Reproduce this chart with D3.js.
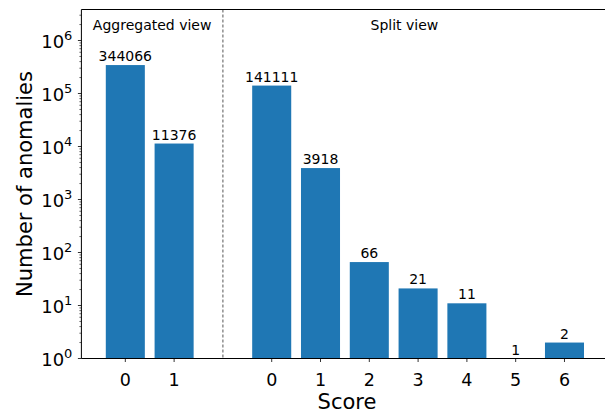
<!DOCTYPE html>
<html><head><meta charset="utf-8">
<script src="https://cdn.jsdelivr.net/npm/d3@7"></script>
<style>body{margin:0;background:#fff}svg{display:block}text{font-family:"DejaVu Sans",sans-serif}</style>
</head><body>
<svg id="c" width="605" height="414"></svg>
<script>
// data
const aggScores = ["0","1"];
const aggValues = [344066, 11376];
const splitScores = ["0","1","2","3","4","5","6"];
const splitValues = [141111, 3918, 66, 21, 11, 1, 2];
const yTickExps = [0,1,2,3,4,5,6];
const panelLabels = ["Aggregated view", "Split view"];

const svg = d3.select("#c");
const L = 81.4, R = 608.4, T = 9.5, B = 358.5;
const x = d3.scaleLinear().domain([-0.9, 9.9]).range([L, R]);
const y = d3.scaleLog().domain([1, Math.pow(10, 6.585)]).range([B, T]);
const color = "#1f77b4";
const bw = 0.8;

// positions: aggregated at 0,1 ; split at 3..9
const bars = aggValues.map((v,i)=>({pos:i, label:aggScores[i], v}))
  .concat(splitValues.map((v,i)=>({pos:i+3, label:splitScores[i], v})));

const g = svg.append("g");
g.selectAll("rect.bar").data(bars).join("rect")
  .attr("x", d=>x(d.pos-bw/2)).attr("width", x(bw)-x(0))
  .attr("y", d=>y(d.v)).attr("height", d=>B-y(d.v))
  .attr("fill", color);

g.selectAll("text.ann").data(bars).join("text")
  .attr("x", d=>x(d.pos)).attr("y", d=>y(d.v)-4)
  .attr("text-anchor","middle").attr("font-size",14).attr("fill","#000")
  .text(d=>d.v);

// dashed separator
g.append("line").attr("x1",x(2)).attr("x2",x(2)).attr("y1",T).attr("y2",B)
  .attr("stroke","#555").attr("stroke-width",1).attr("stroke-dasharray","3,2");

// panel labels
g.append("text").attr("x",x(0.55)).attr("y",30).attr("text-anchor","middle")
  .attr("font-size",14).text(panelLabels[0]);
g.append("text").attr("x",x(5.72)).attr("y",30).attr("text-anchor","middle")
  .attr("font-size",14).text(panelLabels[1]);

// x axis
const xa = svg.append("g");
bars.forEach(d=>{
  xa.append("line").attr("x1",x(d.pos)).attr("x2",x(d.pos)).attr("y1",B).attr("y2",B+3.5)
    .attr("stroke","#000").attr("stroke-width",0.8);
  xa.append("text").attr("x",x(d.pos)).attr("y",B+27.5).attr("text-anchor","middle")
    .attr("font-size",17.5).text(d.label);
});

// y axis ticks
const ya = svg.append("g");
yTickExps.forEach(e=>{
  const yy = y(Math.pow(10,e));
  ya.append("line").attr("x1",L-3.5).attr("x2",L).attr("y1",yy).attr("y2",yy)
    .attr("stroke","#000").attr("stroke-width",0.8);
  const t = ya.append("text").attr("x",L-9).attr("y",yy+7).attr("text-anchor","end").attr("font-size",18);
  t.append("tspan").text("10");
  t.append("tspan").attr("font-size",13).attr("dy",-8).text(e);
});
// minor ticks
for (let e=0; e<7; e++) for (let m=2; m<10; m++){
  const v = m*Math.pow(10,e);
  if (v > y.domain()[1]) continue;
  ya.append("line").attr("x1",L-2).attr("x2",L).attr("y1",y(v)).attr("y2",y(v))
    .attr("stroke","#000").attr("stroke-width",0.6);
}

// spines
svg.append("line").attr("x1",L).attr("x2",L).attr("y1",T).attr("y2",B).attr("stroke","#000").attr("stroke-width",1);
svg.append("line").attr("x1",L).attr("x2",R).attr("y1",B).attr("y2",B).attr("stroke","#000").attr("stroke-width",1);
svg.append("line").attr("x1",L).attr("x2",R).attr("y1",T).attr("y2",T).attr("stroke","#000").attr("stroke-width",1);
svg.append("line").attr("x1",R).attr("x2",R).attr("y1",T).attr("y2",B).attr("stroke","#000").attr("stroke-width",1);

// axis labels
svg.append("text").attr("x",347).attr("y",409).attr("text-anchor","middle").attr("font-size",21).text("Score");
svg.append("text").attr("transform",`translate(32,${(T+B)/2}) rotate(-90)`).attr("text-anchor","middle")
  .attr("font-size",21).text("Number of anomalies");
</script>
</body></html>
